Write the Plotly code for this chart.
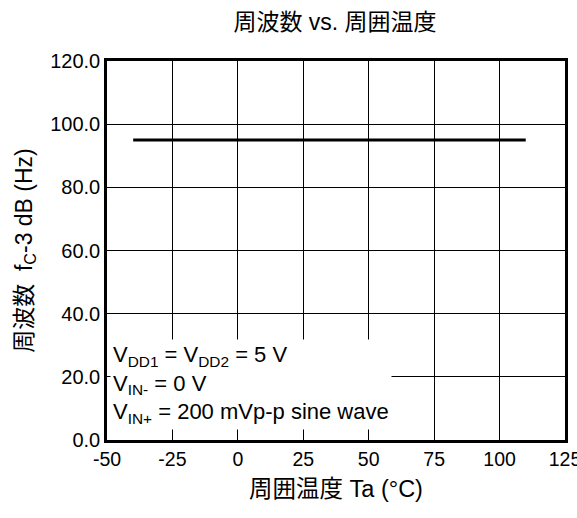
import plotly.graph_objects as go

temps = [-40, 110]
freq = [95.0, 95.0]
x_ticks = [-50, -25, 0, 25, 50, 75, 100, 125]
y_ticks = [0, 20, 40, 60, 80, 100, 120]

FONT = "Liberation Sans, Noto Sans CJK JP, sans-serif"

fig = go.Figure()
fig.add_trace(go.Scatter(x=temps, y=freq, mode="lines",
                         line=dict(color="black", width=3), showlegend=False))

W, H = 577, 518
fig.update_layout(
    width=W, height=H,
    margin=dict(l=107, r=12, t=61, b=78),
    paper_bgcolor="white", plot_bgcolor="white",
    font=dict(family=FONT, size=20, color="black"),
    title=dict(text="周波数 vs. 周囲温度", x=335 / W, xanchor="center",
               y=1 - 22 / H, yanchor="middle", font=dict(size=23, family=FONT)),
)
fig.update_xaxes(range=[-50, 125], tickvals=x_ticks, ticktext=[str(v) for v in x_ticks],
                 showgrid=True, automargin=False, ticklabeloverflow="allow",
                 gridcolor="black", gridwidth=1, showline=True, linecolor="black",
                 linewidth=2.5, mirror=True, ticks="", zeroline=False,
                 title=dict(text="周囲温度 Ta (°C)", standoff=12, font=dict(size=23.5)),
                 tickfont=dict(size=19.5))
fig.update_yaxes(range=[0, 120], tickvals=y_ticks, tickformat=".1f", showgrid=True,
                 automargin=False, ticklabeloverflow="allow",
                 gridcolor="black", gridwidth=1, showline=True, linecolor="black",
                 linewidth=2.5, mirror=True, ticks="", zeroline=False,
                 title=dict(text="周波数  f<sub>C</sub>-3 dB (Hz)", standoff=12, font=dict(size=23)),
                 tickfont=dict(size=20))

fig.add_annotation(
    x=0.0066, xref="paper", y=0.026, yref="paper", xanchor="left", yanchor="bottom",
    text="V<sub>DD1</sub> = V<sub>DD2</sub> = 5 V<br>V<sub>IN-</sub> = 0 V<br>V<sub>IN+</sub> = 200 mVp-p sine wave",
    showarrow=False, align="left", bgcolor="white", borderpad=2,
    font=dict(size=22, family=FONT, color="black"),
)

fig.write_html("out.html", config={"displayModeBar": False},
               post_script="document.body.style.margin='0';document.body.style.overflow='hidden';")
